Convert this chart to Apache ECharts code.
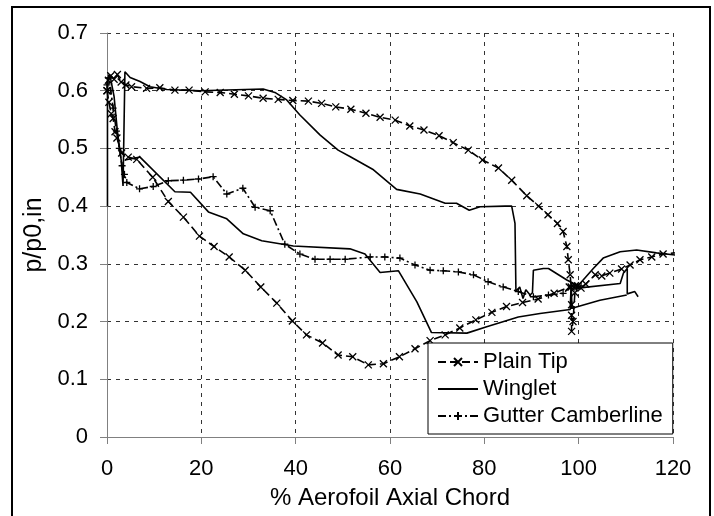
<!DOCTYPE html>
<html>
<head>
<meta charset="utf-8">
<script src="https://cdn.jsdelivr.net/npm/echarts@6/dist/echarts.min.js"></script>
<style>
    html, body { margin: 0; padding: 0; background: #fff; }
    #chart { width: 714px; height: 516px; }
</style>
</head>
<body>
<div id="chart"></div>
<script>
    // [x %, p/p0,in]
    const plainTipSuction = [
        [0, 0.6], [0.3, 0.618], [0.8, 0.626], [1.5, 0.62], [2.2, 0.628], [3, 0.615], [4, 0.61],
        [5.2, 0.607], [8.4, 0.604], [11.2, 0.605], [14.4, 0.601], [17.4, 0.601], [20.8, 0.598],
        [24, 0.597], [27, 0.594], [30, 0.591], [33.1, 0.587], [36.3, 0.585], [39.4, 0.583],
        [42.7, 0.582], [45.5, 0.578], [48.5, 0.572], [51.7, 0.568], [54.9, 0.561], [57.9, 0.554],
        [61.1, 0.549], [64.2, 0.539], [67.2, 0.532], [70.4, 0.522], [73.4, 0.51], [76.6, 0.497],
        [79.6, 0.48], [83, 0.466], [85.8, 0.445], [89, 0.418], [91.5, 0.4], [93.5, 0.385],
        [95.5, 0.37], [96.7, 0.356], [97.5, 0.33], [97.8, 0.307], [98.2, 0.281], [98.4, 0.26],
        [98.5, 0.229], [98.5, 0.211], [98.5, 0.183], [98.8, 0.2], [99.2, 0.25], [99.8, 0.262],
        [100.5, 0.258], [101.5, 0.265], [103.5, 0.281], [104.9, 0.279], [106.6, 0.284],
        [109.1, 0.291], [110.9, 0.298], [113, 0.307], [115.5, 0.312], [117.9, 0.317], [120.4, 0.319]
    ];
    const plainTipPressure = [
        [0, 0.6], [0.4, 0.58], [0.9, 0.56], [1.3, 0.552], [1.7, 0.529], [2.1, 0.518], [3.1, 0.492],
        [4.5, 0.485], [6.3, 0.481], [9.7, 0.45], [13, 0.408], [16.2, 0.381], [19.6, 0.348],
        [22.7, 0.33], [25.9, 0.312], [29.3, 0.289], [32.6, 0.26], [36, 0.232], [39.3, 0.201],
        [42.3, 0.177], [45.7, 0.163], [49, 0.142], [52.1, 0.139], [55.4, 0.125], [58.6, 0.127],
        [62, 0.139], [65.3, 0.153], [68.5, 0.167], [71.7, 0.177], [74.8, 0.189], [78.2, 0.203],
        [81.6, 0.216], [84.7, 0.226], [88.1, 0.233], [91.4, 0.239], [94.8, 0.249], [98, 0.26],
        [99.3, 0.262]
    ];
    const wingletSuction = [
        [0.1, 0.4], [0.1, 0.62], [0.6, 0.628], [1.5, 0.59], [2.2, 0.53], [3, 0.48], [3.4, 0.435],
        [3.8, 0.435], [3.8, 0.633], [4.9, 0.623], [7, 0.616], [9.1, 0.607], [12.7, 0.602],
        [19.7, 0.6], [33.1, 0.603], [35.6, 0.597], [38.1, 0.584], [40.9, 0.558], [45.2, 0.523],
        [49, 0.497], [51.5, 0.486], [56.5, 0.463], [61.4, 0.429], [66.4, 0.421], [71.7, 0.405],
        [74.1, 0.405], [76.8, 0.393], [79.1, 0.399], [84.4, 0.4], [85.8, 0.4], [86.5, 0.37],
        [86.7, 0.252], [87.5, 0.26], [88.2, 0.24], [88.8, 0.255], [89.7, 0.246], [90.2, 0.25],
        [90.4, 0.289], [92.5, 0.292], [93.6, 0.292], [97.5, 0.272], [99.6, 0.263], [100.3, 0.266],
        [103.1, 0.292], [105.2, 0.31], [108.8, 0.321], [112.3, 0.324], [116.5, 0.319], [120.8, 0.315]
    ];
    const wingletPressure = [
        [3.8, 0.48], [7, 0.485], [14.4, 0.425], [17.7, 0.424], [21.5, 0.39], [25.4, 0.378],
        [28.9, 0.352], [32.8, 0.34], [39.5, 0.331], [51.5, 0.326], [54.7, 0.317], [57.9, 0.285],
        [61.8, 0.288], [65.7, 0.234], [68.8, 0.181], [76.3, 0.18], [80.5, 0.191], [87.2, 0.208],
        [91.8, 0.214], [98.2, 0.221], [98.4, 0.262], [98.6, 0.223], [104.5, 0.237], [110.2, 0.246]
    ];
    const wingletTrailing = [
        [99.8, 0.258], [108.8, 0.266], [109.5, 0.284], [110.3, 0.292], [110.3, 0.248],
        [111.9, 0.252], [112.6, 0.243]
    ];
    const gutterCamberline = [
        [0, 0.61], [0.3, 0.622], [0.8, 0.6], [1.3, 0.57], [2, 0.53], [2.6, 0.5], [3.2, 0.47],
        [3.7, 0.455], [4.2, 0.441], [6.9, 0.43], [9.8, 0.434], [13, 0.444], [16.2, 0.445],
        [19.4, 0.447], [22.5, 0.451], [25.4, 0.421], [28.8, 0.431], [31.4, 0.398], [34.6, 0.392],
        [37.7, 0.334], [40.9, 0.317], [44.1, 0.308], [47.3, 0.308], [50.5, 0.308], [55.8, 0.312],
        [58.9, 0.312], [62.1, 0.31], [65.3, 0.298], [68.5, 0.289], [71.3, 0.288], [74.5, 0.286],
        [77.7, 0.281], [80.8, 0.269], [84, 0.26], [87.2, 0.252], [90.4, 0.243], [93.6, 0.246],
        [96.7, 0.249], [98.5, 0.262], [99.5, 0.258], [100.5, 0.262]
    ];
    const xTicks = {min: 0, max: 120, interval: 20};
    const yTicks = {min: 0, max: 0.7, interval: 0.1};

    const FONT = '"Liberation Sans", Arial, sans-serif';
    const CROSS = 'path://M0,0L10,10M0,10L10,0';
    const PLUS = 'path://M5,0L5,10M0,5L10,5';

    // join branches with a gap so one legend entry covers the whole loop
    function joinBranches() {
        let out = [];
        Array.prototype.slice.call(arguments).forEach((b, i) => {
            if (i > 0) out.push('-');
            out = out.concat(b);
        });
        return out;
    }

    let chart = echarts.init(document.getElementById('chart'), null, {renderer: 'canvas'});
    let option = {
        animation: false,
        backgroundColor: '#fff',
        textStyle: {fontFamily: FONT, color: '#000'},
        grid: {left: 107, right: 41, top: 33, bottom: 79},
        graphic: [{
            type: 'rect',
            shape: {x: 12, y: 7, width: 698, height: 520},
            style: {fill: 'none', stroke: '#000', lineWidth: 2},
            silent: true,
            z: 100
        }],
        legend: {
            orient: 'vertical',
            left: 428,
            top: 343,
            padding: [7, 10, 6, 9],
            itemGap: 3,
            itemWidth: 40,
            itemHeight: 10,
            backgroundColor: '#fff',
            borderColor: '#000',
            borderWidth: 1,
            borderRadius: 0,
            textStyle: {fontFamily: FONT, fontSize: 22, color: '#000', lineHeight: 24},
            data: ['Plain Tip', 'Winglet', 'Gutter Camberline']
        },
        xAxis: {
            type: 'value',
            min: xTicks.min,
            max: xTicks.max,
            interval: xTicks.interval,
            name: '% Aerofoil Axial Chord',
            nameLocation: 'middle',
            nameGap: 49,
            nameTextStyle: {fontFamily: FONT, fontSize: 24, color: '#000'},
            axisLine: {lineStyle: {color: '#808080', width: 1}},
            axisTick: {length: 7, lineStyle: {color: '#808080'}},
            axisLabel: {margin: 21, fontFamily: FONT, fontSize: 22, color: '#000'},
            splitLine: {show: true, lineStyle: {color: '#333', type: [4, 5], width: 1}}
        },
        yAxis: {
            type: 'value',
            min: yTicks.min,
            max: yTicks.max,
            interval: yTicks.interval,
            name: 'p/p0,in',
            nameLocation: 'middle',
            nameGap: 46,
            nameTextStyle: {fontFamily: FONT, fontSize: 25, color: '#000'},
            axisLine: {show: true, lineStyle: {color: '#808080', width: 1}},
            axisTick: {show: true, length: 7, lineStyle: {color: '#808080'}},
            axisLabel: {margin: 19, fontFamily: FONT, fontSize: 22, color: '#000'},
            splitLine: {show: true, lineStyle: {color: '#333', type: [4, 5], width: 1}}
        },
        series: [
            {
                name: 'Plain Tip',
                type: 'line',
                data: joinBranches(plainTipSuction, plainTipPressure),
                connectNulls: false,
                symbol: CROSS,
                symbolSize: 7,
                itemStyle: {color: '#000', borderColor: '#000', borderWidth: 1.3},
                lineStyle: {color: '#000', width: 1.6, type: [8, 4]},
                z: 3
            },
            {
                name: 'Winglet',
                type: 'line',
                data: joinBranches(wingletSuction, wingletPressure, wingletTrailing),
                connectNulls: false,
                showSymbol: false,
                itemStyle: {color: '#000', opacity: 0},
                lineStyle: {color: '#000', width: 1.6, type: 'solid', opacity: 1},
                z: 2
            },
            {
                name: 'Gutter Camberline',
                type: 'line',
                data: gutterCamberline,
                symbol: PLUS,
                symbolSize: 7,
                itemStyle: {color: '#000', borderColor: '#000', borderWidth: 1.3},
                lineStyle: {color: '#000', width: 1.6, type: [8, 3, 2, 3]},
                z: 3
            }
        ]
    };
    chart.setOption(option);
</script>
</body>
</html>
